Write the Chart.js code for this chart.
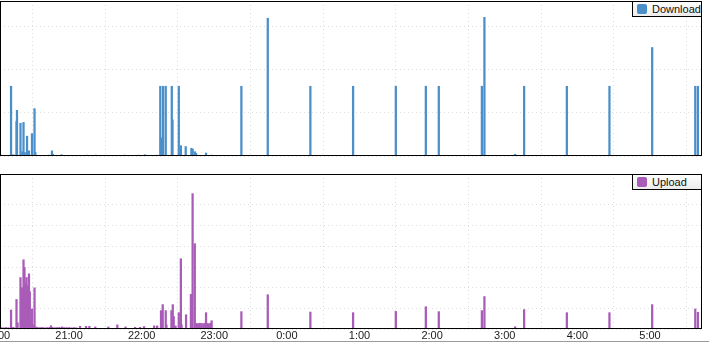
<!DOCTYPE html>
<html><head><meta charset="utf-8">
<script src="https://cdn.jsdelivr.net/npm/chart.js@4.4.1/dist/chart.umd.min.js"></script>
<style>
html,body{margin:0;padding:0;background:#fff;overflow:hidden;}
#wrap{position:relative;width:709px;height:342px;overflow:hidden;}
canvas{position:absolute;left:0;}
#c1{top:0;}
#c2{top:160px;}
.legend{position:absolute;left:632px;width:70px;height:16px;box-sizing:border-box;border:1px solid #000;
  background:linear-gradient(#ffffff,#ececec);font:11px 'Liberation Sans',Arial,sans-serif;color:#111;white-space:nowrap;}
.legend .sw{position:absolute;left:4px;top:2px;width:10px;height:10px;border-radius:2px;}
.legend .tx{position:absolute;left:19px;top:1px;line-height:13px;}
#bottomline{position:absolute;left:0;top:341px;width:709px;height:1px;background:#9a9a9a;}
</style>
</head><body>
<div id="wrap">
<canvas id="c1" width="709" height="157"></canvas>
<canvas id="c2" width="709" height="182"></canvas>
<div class="legend" style="top:1px"><div class="sw" style="background:#4a8fca"></div><div class="tx">Download</div></div>
<div class="legend" style="top:174px"><div class="sw" style="background:#a85cb8"></div><div class="tx">Upload</div></div>
<div id="bottomline"></div>
</div>
<script>
// x positions: minutes after 20:00
const tickLabels = ['20:00','21:00','22:00','23:00','0:00','1:00','2:00','3:00','4:00','5:00'];
const tickMinutes = [0,60,120,180,240,300,360,420,480,540];

const downloadMinutes = [4.6,12.1,14.1,16.6,17.0,19.9,21.5,22.4,23.4,25.3,26.9,29.4,31.5,32.2,43.5,45.9,46.6,53.8,74.6,82.1,105.7,117.3,122.8,
  132.5,135.4,136.0,137.7,139.9,144.9,145.5,150.7,152.4,156.4,161.1,162.2,164.1,165.0,173.2,177.8,
  202.4,224.2,259.4,294.7,330.0,354.8,365.5,401.1,403.2,428.6,436.0,471.3,506.5,541.8,577.4,579.6];
const downloadValues = [1,81,1.5,40,53,38,5,39,4,23,6,26,55,4,1,6,2,1.5,1,1,1,1,1.5,
  1,81,21,81,81,81,42,81,12,11,9,8,5,3,3.5,1,
  81,160,81,81,81,81,81,81,161,2,81,81,81,126,81,81];

const uploadMinutes = [4,6,8,10,12.1,13.5,14.5,16.6,17.5,19.9,20.6,21.3,22.4,23.2,24.0,24.9,25.6,26.9,27.6,28.3,29.4,30.3,31.5,32.5,
  34,36,38,40,42,44,45.1,46,48,50,52,54.2,56,58,60,62,64,66,69.1,74.0,76.8,81.7,92.5,99.9,106.7,114.6,118.7,122.0,130.3,132.8,
  136.0,136.7,137.4,139.9,140.5,144.6,145.7,146.5,148.0,150.7,152.4,153.0,156.7,160.7,162.1,163.9,
  165.0,166.5,168.0,169.5,171.0,172.5,173.2,174.0,175.5,177.0,177.8,
  202.4,224.2,259.4,294.7,330.0,354.8,365.5,401.1,403.2,428.6,436.0,471.3,506.5,541.8,577.4,579.6];
const uploadValues = [0.7,0.6,0.7,0.6,9.2,0.8,0.6,14.3,3,24.9,15,20,33.5,29.8,22,24.9,21,26.7,18,5,9.7,2,19.9,1,
  0.8,0.7,0.8,0.6,0.7,0.8,1.6,0.8,0.7,0.7,0.8,1.0,0.7,0.7,0.7,0.6,0.7,0.6,1.3,1.3,1.3,1,1,2,1,0.8,0.8,1.2,1.5,1.5,
  8.9,4,11.8,8.9,2,8.9,11.8,6,1.5,7.9,34,2,6.9,16.8,65.5,41.3,
  2.7,2.6,2.8,2.7,2.6,2.8,7.9,2.7,2.6,2.8,4,
  8.4,16.6,8.2,7.9,8.5,10.8,8.4,8.9,15.7,1.1,9.4,7.9,7.9,11.8,9.7,8.1];

const X_MIN = 2.97, X_MAX = 582.97;

const framePlugin = {
  id: 'frame',
  afterDraw(chart) {
    const a = chart.chartArea, ctx = chart.ctx;
    ctx.save();
    ctx.strokeStyle = '#000';
    ctx.lineWidth = 1;
    ctx.strokeRect(a.left + 0.5, a.top + 0.5, a.right - a.left - 1, a.bottom - a.top - 1);
    ctx.restore();
  }
};

function makeChart(id, label, minutes, values, color, yMax, yStep, showLabels, padTop, padBottom) {
  const data = minutes.map((m, i) => ({x: m, y: values[i]}));
  return new Chart(document.getElementById(id), {
    type: 'bar',
    data: {datasets: [{label, data, backgroundColor: color, borderWidth: 0, barThickness: 1.6}]},
    plugins: [framePlugin],
    options: {
      responsive: false, animation: false, devicePixelRatio: 1,
      layout: {padding: {left: 0, right: 7, top: padTop, bottom: padBottom}},
      plugins: {legend: {display: false}, tooltip: {enabled: false}},
      scales: {
        x: {
          type: 'linear', min: X_MIN, max: X_MAX, offset: false,
          afterBuildTicks: s => { s.ticks = tickMinutes.map(v => ({value: v})); },
          afterFit: s => { s.paddingLeft = 0; s.paddingRight = 0; s.height = showLabels ? 13 : 0; },
          grid: {display: true, drawTicks: false, color: '#dedede', lineWidth: 1},
          border: {display: false, dash: [1, 3]},
          ticks: {
            display: showLabels, autoSkip: false, maxRotation: 0, padding: 0,
            color: '#1a1a1a', font: {family: "'Liberation Sans', Arial, sans-serif", size: 11},
            callback: (v) => tickLabels[tickMinutes.indexOf(v)]
          }
        },
        y: {
          min: 0, max: yMax,
          afterFit: s => { s.width = 0; },
          grid: {drawTicks: false, color: '#dedede', lineWidth: 1},
          border: {display: false, dash: [1, 3]},
          ticks: {display: false, stepSize: yStep}
        }
      }
    }
  });
}

makeChart('c1', 'Download', downloadMinutes, downloadValues, '#4a8fca', 180, 50, false, 1, 1);
makeChart('c2', 'Upload', uploadMinutes, uploadValues, '#a85cb8', 75, 10, true, 14, 0);
</script>
</body></html>
